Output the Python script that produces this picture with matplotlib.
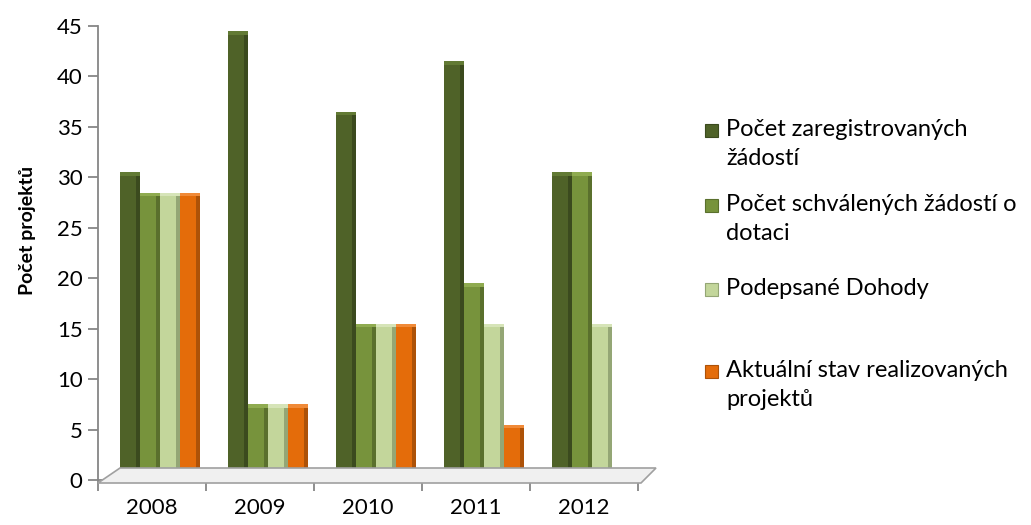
import matplotlib
matplotlib.use("Agg")
import matplotlib.pyplot as plt
import numpy as np
from matplotlib.transforms import offset_copy
from matplotlib.patches import Polygon, Rectangle

plt.rcParams['font.family'] = ['Lato', 'DejaVu Sans']

years = ['2008', '2009', '2010', '2011', '2012']
series = ['Počet zaregistrovaných\nžádostí',
          'Počet schválených žádostí o\ndotaci',
          'Podepsané Dohody',
          'Aktuální stav realizovaných\nprojektů']
registered = [30, 44, 36, 41, 30]
approved = [28, 7, 15, 19, 30]
signed = [28, 7, 15, 15, 15]
realized = [28, 7, 15, 5, 0]
values = [registered, approved, signed, realized]

colors = ['#4f6228', '#77933c', '#c3d69b', '#e46c0a']
sides = ['#3b4a1e', '#5a702d', '#94a675', '#ad5208']
tops = ['#627a34', '#8fab50', '#d6e4b8', '#f08a38']

fig = plt.figure(figsize=(10.31, 5.25), dpi=100)
ax = fig.add_axes([98 / 1031, 45 / 525, 540 / 1031, 454 / 525])
ax.set_xlim(-0.5, 4.5)
ax.set_ylim(0, 45)

# floor of the 3D plot
p0 = ax.transData.transform((-0.5, 0))
p1 = ax.transData.transform((4.5, 0))
floor = Polygon([(p0[0], p0[1] - 3), (p1[0] + 3, p1[1] - 3),
                 (p1[0] + 18, p1[1] + 12), (p0[0] + 22, p0[1] + 12)],
                closed=True, transform=None, facecolor='#f0f0f0',
                edgecolor='#a0a0a0', lw=1.2, zorder=1)
fig.patches.append(floor)

tr = offset_copy(ax.transData, fig=fig, x=8, y=5, units='dots')
x = np.arange(len(years))
w = 0.185
side_w = 0.04
for k, vals in enumerate(values):
    xs = x + (k - 1.5) * w
    ax.bar(xs, vals, w, color=colors[k], transform=tr, zorder=3, lw=0)
    ax.bar(xs + w / 2 - side_w / 2, vals, side_w, color=sides[k],
           transform=tr, zorder=3, lw=0)
    cap_col = [sides[k] if v == 0 else tops[k] for v in vals]
    ax.bar(xs, [0.35] * len(vals), w, bottom=np.array(vals) - 0.35,
           color=cap_col, transform=tr, zorder=4, lw=0)

for s in ['top', 'right']:
    ax.spines[s].set_visible(False)
for s in ['left', 'bottom']:
    ax.spines[s].set_color('#868686')
    ax.spines[s].set_linewidth(1.3)

ax.set_yticks(np.arange(0, 46, 5))
ax.tick_params(axis='y', length=7, width=1.3, color='#868686', pad=4,
               labelsize=16)
ax.set_xticks(x)
ax.set_xticklabels(years)
ax.set_xticks(np.arange(-0.5, 5, 1), minor=True)
ax.tick_params(axis='x', which='major', length=0, pad=13, labelsize=16)
ax.tick_params(axis='x', which='minor', length=8, width=1.3, color='#868686')
ax.set_ylabel('Počet projektů', fontsize=14, fontweight='bold')
ax.yaxis.set_label_coords(-0.115, 0.55)

# legend on the right
leg_y = [131, 206, 290, 372]
for k, lab in enumerate(series):
    yy = 525 - leg_y[k]
    fig.patches.append(Rectangle((705 / 1031, (yy - 6) / 525), 13 / 1031,
                                 13 / 525, transform=fig.transFigure,
                                 facecolor=colors[k], edgecolor=sides[k],
                                 lw=0.8))
    fig.text(726 / 1031, (yy + 12) / 525, lab, fontsize=17, va='top',
             ha='left', linespacing=1.45)

fig.savefig('out.png', dpi=100)
